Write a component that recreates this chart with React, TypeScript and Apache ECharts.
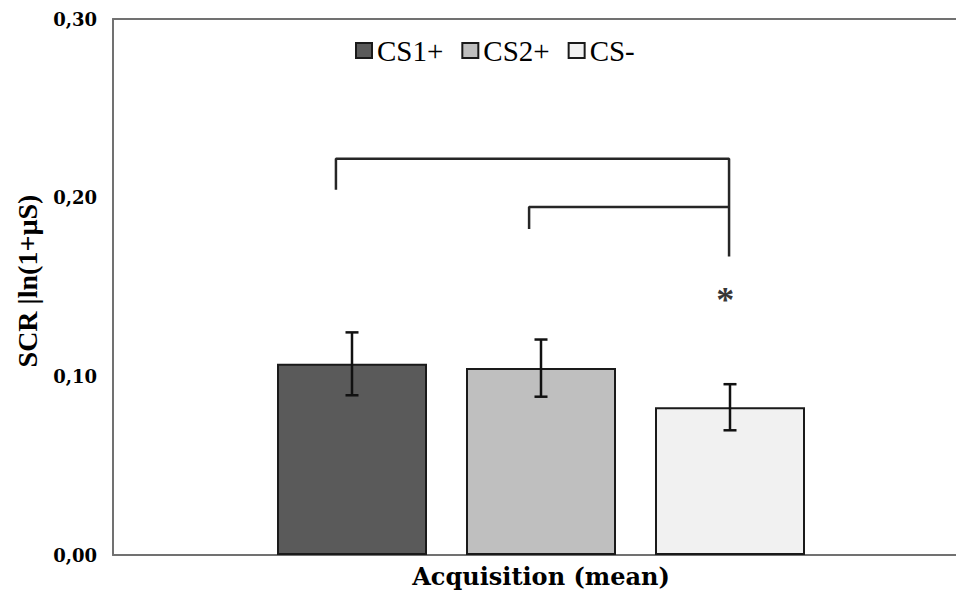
import React, { useEffect, useRef } from "react";
import * as echarts from "echarts";

// ---- data ----
const categories = ["Acquisition (mean)"];
const seriesNames = ["CS1+", "CS2+", "CS-"];
const means = [0.107, 0.1046, 0.0827];
const errors = [0.0176, 0.016, 0.0129];
const barColors = ["#5a5a5a", "#bfbfbf", "#f1f1f1"];
const yTickLabels = ["0,00", "0,10", "0,20", "0,30"];
const yMin = 0;
const yMax = 0.3;
const yStep = 0.1;
const yAxisTitle = "SCR |ln(1+µS)";
// brackets, in bar-position units (0 = CS1+, 1 = CS2+, 2 = CS-)
const bracketA = [
  [-0.085, 0.2045],
  [-0.085, 0.2218],
  [1.995, 0.2218],
  [1.995, 0.1671],
];
const bracketB = [
  [0.937, 0.1825],
  [0.937, 0.1948],
  [1.995, 0.1948],
];
const starPoint = [[1.975, 0.1457]];
const starText = "*";

// ---- layout ----
const W = 956;
const H = 598;
const CHART_W = 969; // plot area continues past the right edge of the picture
const GRID_LEFT = 113;
const GRID_TOP = 19;
const GRID_BOTTOM = 43;
const BAR_W = 150;
const BAR_GAP = 39;

export default function App() {
  const ref = useRef<HTMLDivElement>(null);
  useEffect(() => {
    if (!ref.current) return;
    const chart = echarts.init(ref.current, null, { renderer: "svg" });
    const gridW = CHART_W - GRID_LEFT;
    const pitch = BAR_W + BAR_GAP;
    const half = gridW / 2 / pitch;
    const frame = { color: "#717171", width: 2 };

    const errorData = means.map((m, i) => [i, m - errors[i], m + errors[i]]);

    const option: any = {
      animation: false,
      backgroundColor: "#ffffff",
      grid: { left: GRID_LEFT, right: 0, top: GRID_TOP, bottom: GRID_BOTTOM },
      legend: {
        data: seriesNames,
        left: 350,
        top: 31,
        itemWidth: 16,
        itemHeight: 15,
        itemGap: 18,
        icon: "rect",
        textStyle: { fontFamily: "Liberation Serif", fontSize: 29, color: "#000" },
      },
      xAxis: [
        {
          type: "category",
          data: categories,
          position: "bottom",
          axisLine: { show: true, lineStyle: frame },
          axisTick: { show: false },
          axisLabel: {
            margin: 9,
            fontFamily: "DejaVu Serif",
            fontWeight: "bold",
            fontSize: 24,
            color: "#000",
          },
          splitLine: { show: false },
        },
        {
          type: "value",
          position: "top",
          min: 1 - half,
          max: 1 + half,
          axisLine: { show: true, onZero: false, lineStyle: frame },
          axisTick: { show: false },
          axisLabel: { show: false },
          splitLine: { show: false },
        },
      ],
      yAxis: {
        type: "value",
        min: yMin,
        max: yMax,
        interval: yStep,
        name: yAxisTitle,
        nameLocation: "middle",
        nameGap: 72,
        nameTextStyle: {
          fontFamily: "Liberation Serif",
          fontWeight: "bold",
          fontSize: 28,
          color: "#000",
          padding: [0, 0, 0, 12],
        },
        axisLine: { show: true, onZero: false, lineStyle: frame },
        axisTick: { show: false },
        splitLine: { show: false },
        axisLabel: {
          margin: 16,
          fontFamily: "DejaVu Serif",
          fontWeight: "bold",
          fontSize: 18,
          color: "#000",
          formatter: (v: number) => yTickLabels[Math.round((v - yMin) / yStep)] ?? "",
        },
      },
      series: [
        ...seriesNames.map((name, i) => ({
          name,
          type: "bar",
          xAxisIndex: 0,
          data: [means[i]],
          barWidth: BAR_W,
          barGap: `${(BAR_GAP / BAR_W) * 100}%`,
          itemStyle: { color: barColors[i], borderColor: "#1a1a1a", borderWidth: 2 },
        })),
        {
          type: "custom",
          name: "error",
          xAxisIndex: 1,
          yAxisIndex: 0,
          z: 10,
          data: errorData,
          encode: { x: 0, y: [1, 2] },
          renderItem: (_p: any, api: any) => {
            const x = api.value(0);
            const lo = api.coord([x, api.value(1)]);
            const hi = api.coord([x, api.value(2)]);
            const cw = 6.5;
            const st = { stroke: "#111", lineWidth: 2.5 };
            return {
              type: "group",
              children: [
                { type: "line", shape: { x1: hi[0], y1: hi[1], x2: lo[0], y2: lo[1] }, style: st },
                { type: "line", shape: { x1: hi[0] - cw, y1: hi[1], x2: hi[0] + cw, y2: hi[1] }, style: st },
                { type: "line", shape: { x1: lo[0] - cw, y1: lo[1], x2: lo[0] + cw, y2: lo[1] }, style: st },
              ],
            };
          },
        },
        ...[bracketA, bracketB].map((d) => ({
          type: "line",
          xAxisIndex: 1,
          yAxisIndex: 0,
          data: d,
          symbol: "none",
          z: 9,
          lineStyle: { color: "#262626", width: 2.5 },
        })),
        {
          type: "scatter",
          xAxisIndex: 1,
          yAxisIndex: 0,
          data: starPoint,
          symbolSize: 2,
          itemStyle: { color: "rgba(0,0,0,0)" },
          z: 11,
          label: {
            show: true,
            position: "inside",
            formatter: starText,
            fontFamily: "Liberation Serif",
            fontWeight: "bold",
            fontSize: 36,
            color: "#000",
            offset: [0, 5],
          },
        },
      ],
    };
    chart.setOption(option);
    return () => chart.dispose();
  }, []);
  return (
    <div
      style={{
        position: "fixed",
        left: 0,
        top: 0,
        width: W,
        height: H,
        overflow: "hidden",
        background: "#fff",
      }}
    >
      <div ref={ref} style={{ width: CHART_W, height: H }} />
    </div>
  );
}
